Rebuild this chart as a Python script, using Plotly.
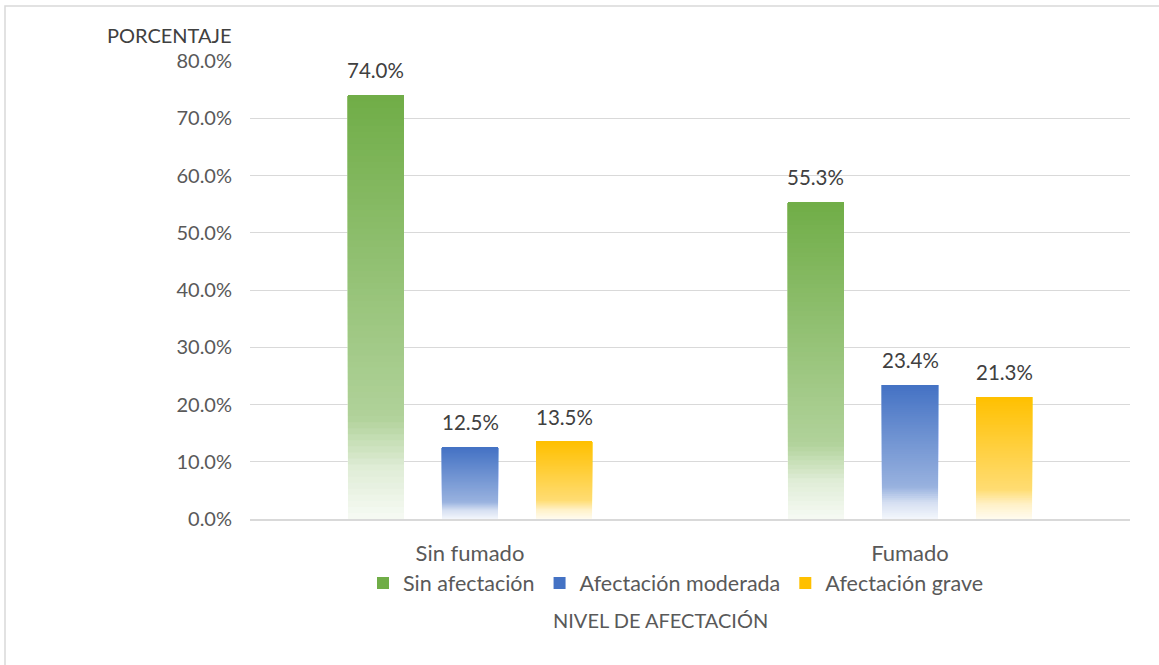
import plotly.graph_objects as go

categories = ["Sin fumado", "Fumado"]
series_names = ["Sin afectación", "Afectación moderada", "Afectación grave"]
sin_afectacion = [74.0, 55.3]
afectacion_moderada = [12.5, 23.4]
afectacion_grave = [13.5, 21.3]
y_ticks = [0, 10, 20, 30, 40, 50, 60, 70, 80]
y_tick_labels = ["0.0%", "10.0%", "20.0%", "30.0%", "40.0%", "50.0%", "60.0%", "70.0%", "80.0%"]

series_values = [sin_afectacion, afectacion_moderada, afectacion_grave]
base_colors = [(112, 173, 71), (68, 114, 196), (255, 192, 0)]

W, H = 1159, 665
L, R, T, B = 250, 29, 61, 146
PW, PH = W - L - R, H - T - B
FONT = "Lato"


def tint(c, a):
    return tuple(int(round(ch + (255 - ch) * a)) for ch in c)


def grad_color(c, t):
    # t: 0 = bottom, 1 = top
    stops = [(0.0, 0.94), (0.12, 0.78), (0.24, 0.45), (1.0, 0.0)]
    for (t0, a0), (t1, a1) in zip(stops[:-1], stops[1:]):
        if t <= t1:
            u = (t - t0) / (t1 - t0)
            a = a0 + (a1 - a0) * u
            break
    r, g, b = tint(c, a)
    return f"rgb({r},{g},{b})"


fig = go.Figure()
N = 70
for si, (name, vals, col) in enumerate(zip(series_names, series_values, base_colors)):
    # gradient: layers that all end at the bar's value, starting higher and darker
    for k in range(N):
        f0 = k / N
        fig.add_trace(go.Bar(
            x=categories,
            base=[v * f0 for v in vals],
            y=[v * (1 - f0) for v in vals],
            name=name, offsetgroup=str(si),
            marker=dict(color=grad_color(col, f0 + 0.5 / N), line=dict(width=0)),
            showlegend=False, legendgroup=name, hoverinfo="skip",
        ))
    # legend entry / hover: zero-height trace in the solid colour
    fig.add_trace(go.Bar(
        x=categories, y=vals, name=name, offsetgroup=str(si),
        marker=dict(color=grad_color(col, 1.0), line=dict(width=0)),
        opacity=0.0, legendgroup=name, showlegend=False,
        hovertemplate="%{x}: %{y:.1f}%<extra>" + name + "</extra>",
    ))
    fig.add_trace(go.Bar(
        x=[None], y=[None], name=name, offsetgroup=str(si),
        marker=dict(color=grad_color(col, 1.0), line=dict(width=0)),
        legendgroup=name, showlegend=True, hoverinfo="skip",
    ))

# data labels
slot_px = (PW / len(categories)) * (1 - 0.359) / 3
for si, vals in enumerate(series_values):
    for ci, v in enumerate(vals):
        fig.add_annotation(
            x=categories[ci], y=v, xref="x", yref="y",
            xshift=(si - 1) * slot_px, yshift=11,
            text=f"{v:.1f}%", showarrow=False, yanchor="bottom",
            font=dict(family=FONT, size=20.5, color="#404040"),
        )

# axis titles
fig.add_annotation(
    x=(234 - L) / PW, y=(519 - 35) / PH, xref="paper", yref="paper",
    text="PORCENTAJE", showarrow=False, xanchor="right", yanchor="middle",
    font=dict(family=FONT, size=20, color="#404040"),
)
fig.add_annotation(
    x=(660 - L) / PW, y=(519 - 620) / PH, xref="paper", yref="paper",
    text="NIVEL DE AFECTACIÓN", showarrow=False, xanchor="center", yanchor="middle",
    font=dict(family=FONT, size=20, color="#595959"),
)

# outer border (left and top)
fig.add_shape(type="rect", xref="paper", yref="paper",
              x0=(5 - L) / PW, x1=(W + 20 - L) / PW,
              y0=(519 - H - 20) / PH, y1=(519 - 6) / PH,
              line=dict(color="#D9D9D9", width=1.5), fillcolor="rgba(0,0,0,0)", layer="below")

fig.update_layout(
    width=W, height=H,
    margin=dict(l=L, r=R, t=T, b=B),
    paper_bgcolor="white", plot_bgcolor="white",
    barmode="group", bargap=0.359, bargroupgap=0.404,
    font=dict(family=FONT, size=20, color="#595959"),
    legend=dict(orientation="h", x=(676 - L) / PW, xanchor="center",
                y=(519 - 583) / PH, yanchor="middle",
                font=dict(family=FONT, size=21.5, color="#595959"),
                itemwidth=30, tracegroupgap=0),
    xaxis=dict(showgrid=False, showline=True, linecolor="#D9D9D9", linewidth=1.5,
               ticks="", ticklabelstandoff=14,
               tickfont=dict(family=FONT, size=22, color="#595959"), fixedrange=True),
    yaxis=dict(range=[0, 80], tickvals=y_ticks, ticktext=y_tick_labels,
               showgrid=True, gridcolor="#D9D9D9", gridwidth=1, zeroline=False,
               showline=False, ticks="", ticklabelstandoff=17,
               tickfont=dict(family=FONT, size=20, color="#595959"), fixedrange=True),
)

fig.write_html("out.html", config={"displayModeBar": False},
               post_script="document.body.style.margin='0';")
